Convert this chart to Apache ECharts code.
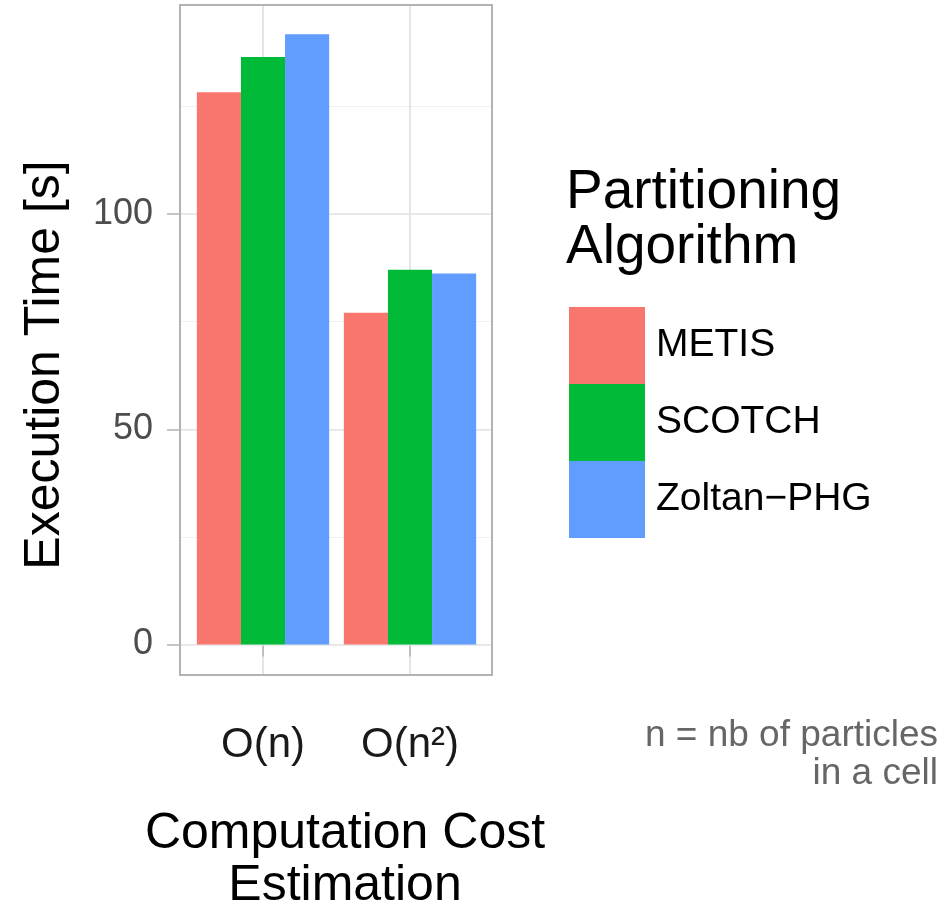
<!DOCTYPE html>
<html>
<head>
<meta charset="utf-8">
<script src="https://cdn.jsdelivr.net/npm/echarts@6/dist/echarts.min.js"></script>
<style>html,body{margin:0;padding:0;background:#fff}#c{width:948px;height:907px}</style>
</head>
<body>
<div id="c"></div>
<script>
const categories = ['O(n)', 'O(n\u00B2)'];
const seriesNames = ['METIS', 'SCOTCH', 'Zoltan\u2212PHG'];
const metis = [128.3, 77.1];
const scotch = [136.5, 87.1];
const zoltan = [141.8, 86.2];
const yTicks = [0, 50, 100];
const yMin = -7.1, yMax = 148.6;
const colors = ['#F8766D', '#00BA38', '#619CFF'];

const FONT = "'Liberation Sans', Arial, sans-serif";
const chart = echarts.init(document.getElementById('c'), null, {renderer: 'canvas'});
const seriesData = [metis, scotch, zoltan];

chart.setOption({
  animation: false,
  backgroundColor: '#ffffff',
  textStyle: {fontFamily: FONT},
  title: {
    text: 'Partitioning\nAlgorithm',
    left: 566, top: 165, padding: 0,
    textStyle: {fontFamily: FONT, fontSize: 55, lineHeight: 55, fontWeight: 'normal', color: '#000'}
  },
  legend: {
    orient: 'vertical', left: 569, top: 307, padding: 0,
    itemWidth: 76, itemHeight: 77, itemGap: 0, icon: 'rect',
    data: seriesNames,
    textStyle: {fontFamily: FONT, fontSize: 39, color: '#000', padding: [0, 0, 0, 6]}
  },
  graphic: [{
    type: 'text', right: 10, top: 717,
    style: {text: 'n = nb of particles\nin a cell', textAlign: 'right', fill: '#666',
            font: '37px ' + FONT, lineHeight: 38}
  }],
  grid: [
    {left: 180, top: 5, width: 312, height: 670, outerBoundsMode: 'none', containLabel: false,
     show: true, borderColor: '#B3B3B3', borderWidth: 2, backgroundColor: 'transparent', z: 3},
    {left: 263, top: 5, width: 147, height: 670, outerBoundsMode: 'none', containLabel: false}
  ],
  xAxis: [
    {gridIndex: 0, type: 'value', min: 0, max: 1, show: false},
    {gridIndex: 1, type: 'category', data: categories, boundaryGap: false,
     axisLine: {show: false},
     axisTick: {show: true, length: 12, lineStyle: {color: '#B3B3B3', width: 1.5}},
     axisLabel: {fontFamily: FONT, fontSize: 42, color: '#1A1A1A', margin: 48, lineHeight: 44},
     splitLine: {show: true, lineStyle: {color: '#DDDDDD', width: 1.5}},
     name: 'Computation Cost\nEstimation', nameLocation: 'middle', nameGap: 133,
     nameTextStyle: {fontFamily: FONT, fontSize: 50, lineHeight: 52, color: '#000', padding: [0, 0, 0, 17]}
    }
  ],
  yAxis: [
    {gridIndex: 0, type: 'value', position: 'left', offset: 0, min: yMin, max: yMax, minInterval: 25, maxInterval: 25,
     axisLine: {show: false}, axisTick: {show: false}, axisLabel: {show: false},
     splitLine: {show: true, lineStyle: {color: '#F0F0F0', width: 1}}, z: 0},
    {gridIndex: 0, type: 'value', position: 'left', offset: 0, min: yMin, max: yMax, minInterval: 50, maxInterval: 50,
     axisLine: {show: false},
     axisTick: {show: true, length: 13, customValues: yTicks, lineStyle: {color: '#B3B3B3', width: 1.5}},
     axisLabel: {fontFamily: FONT, fontSize: 36, color: '#4D4D4D', margin: 27, customValues: yTicks,
                 formatter: v => (yTicks.indexOf(v) >= 0 ? String(v) : '')},
     splitLine: {show: true, lineStyle: {color: '#E3E3E3', width: 1.5}}, z: 1,
     name: 'Execution Time [s]', nameLocation: 'middle', nameGap: 110,
     nameTextStyle: {fontFamily: FONT, fontSize: 50, lineHeight: 50, color: '#000', padding: [0, 50, 0, 0]}
    },
    {gridIndex: 1, type: 'value', min: yMin, max: yMax, show: false, splitLine: {show: false}}
  ],
  series: seriesNames.map((name, i) => ({
    name: name, type: 'bar', xAxisIndex: 1, yAxisIndex: 2,
    data: seriesData[i], barGap: '0%', barCategoryGap: '10%', clip: false,
    itemStyle: {color: colors[i]}
  }))
});
</script>
</body>
</html>
